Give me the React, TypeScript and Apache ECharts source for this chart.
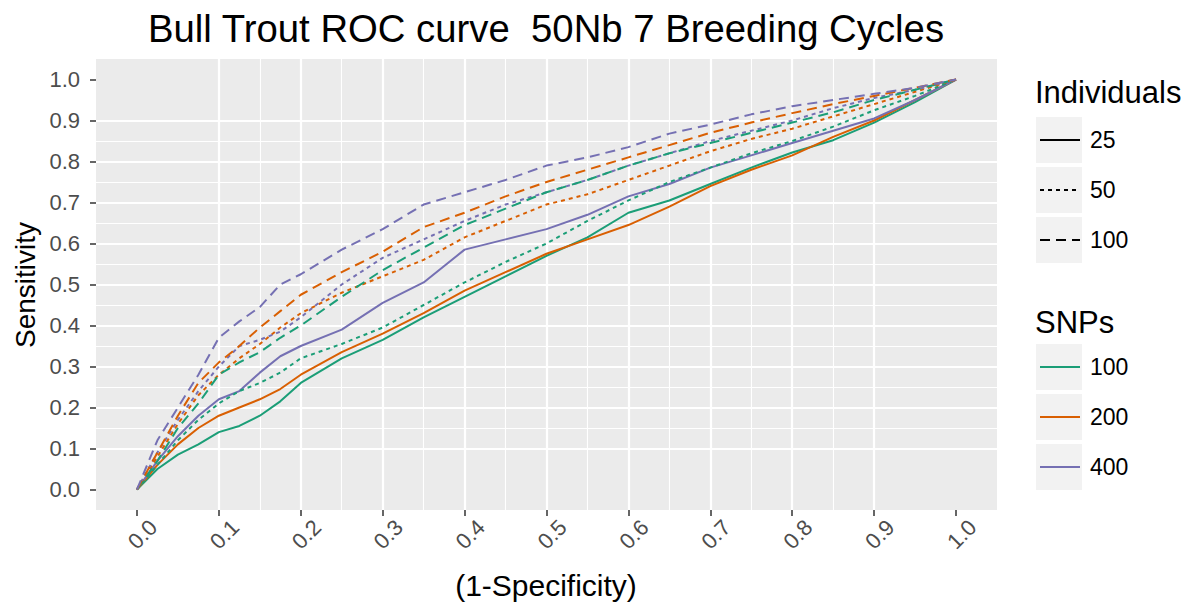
import React, { useEffect, useRef } from "react";
import * as echarts from "echarts";

// False positive rate (1 - specificity) sample positions
const FPR = [0, 0.025, 0.05, 0.075, 0.1, 0.125, 0.15, 0.175, 0.2, 0.25, 0.3, 0.35, 0.4, 0.45, 0.5, 0.55, 0.6, 0.65, 0.7, 0.75, 0.8, 0.85, 0.9, 0.95, 1];

// Sensitivity per SNPs / Individuals combination
const SNP100_IND25 = [0, 0.05, 0.085, 0.11, 0.14, 0.155, 0.18, 0.215, 0.26, 0.32, 0.365, 0.42, 0.47, 0.52, 0.57, 0.615, 0.675, 0.705, 0.745, 0.785, 0.822, 0.852, 0.895, 0.945, 1];
const SNP200_IND25 = [0, 0.06, 0.11, 0.15, 0.18, 0.2, 0.22, 0.245, 0.28, 0.335, 0.38, 0.43, 0.485, 0.53, 0.575, 0.61, 0.645, 0.69, 0.74, 0.78, 0.815, 0.86, 0.9, 0.95, 1];
const SNP400_IND25 = [0, 0.07, 0.13, 0.18, 0.22, 0.24, 0.285, 0.325, 0.35, 0.39, 0.455, 0.505, 0.585, 0.61, 0.635, 0.67, 0.715, 0.745, 0.785, 0.815, 0.845, 0.875, 0.905, 0.95, 1];
const SNP100_IND50 = [0, 0.06, 0.12, 0.17, 0.21, 0.24, 0.26, 0.285, 0.32, 0.355, 0.395, 0.45, 0.505, 0.555, 0.6, 0.655, 0.705, 0.75, 0.785, 0.82, 0.85, 0.885, 0.925, 0.96, 1];
const SNP200_IND50 = [0, 0.08, 0.16, 0.23, 0.28, 0.32, 0.355, 0.395, 0.43, 0.48, 0.52, 0.56, 0.615, 0.655, 0.695, 0.72, 0.755, 0.79, 0.825, 0.855, 0.88, 0.91, 0.94, 0.97, 1];
const SNP400_IND50 = [0, 0.09, 0.17, 0.24, 0.3, 0.35, 0.365, 0.385, 0.42, 0.5, 0.565, 0.61, 0.655, 0.695, 0.725, 0.755, 0.79, 0.82, 0.85, 0.875, 0.9, 0.93, 0.955, 0.975, 1];
const SNP100_IND100 = [0, 0.07, 0.15, 0.21, 0.28, 0.31, 0.335, 0.37, 0.4, 0.47, 0.535, 0.59, 0.645, 0.685, 0.725, 0.755, 0.79, 0.82, 0.845, 0.87, 0.895, 0.92, 0.95, 0.975, 1];
const SNP200_IND100 = [0, 0.09, 0.18, 0.26, 0.31, 0.35, 0.395, 0.435, 0.475, 0.53, 0.58, 0.64, 0.675, 0.715, 0.75, 0.78, 0.81, 0.84, 0.87, 0.895, 0.918, 0.94, 0.96, 0.98, 1];
const SNP400_IND100 = [0, 0.12, 0.2, 0.28, 0.37, 0.41, 0.445, 0.5, 0.525, 0.585, 0.635, 0.695, 0.725, 0.755, 0.79, 0.81, 0.835, 0.868, 0.89, 0.915, 0.935, 0.95, 0.965, 0.98, 1];

const INDIVIDUALS = ["25", "50", "100"];
const SNPS = ["100", "200", "400"];
const SNP_COLORS = ["#1B9E77", "#D95F02", "#7570B3"];
const IND_DASH: (string | number[])[] = ["solid", [4, 4], [10, 6]];

const MAJOR_TICKS = [0, 0.1, 0.2, 0.3, 0.4, 0.5, 0.6, 0.7, 0.8, 0.9, 1.0];
const MINOR_TICKS = [0.05, 0.15, 0.25, 0.35, 0.45, 0.55, 0.65, 0.75, 0.85, 0.95];

const CURVES = [
  { snp: 0, ind: 0, values: SNP100_IND25 },
  { snp: 1, ind: 0, values: SNP200_IND25 },
  { snp: 2, ind: 0, values: SNP400_IND25 },
  { snp: 0, ind: 1, values: SNP100_IND50 },
  { snp: 1, ind: 1, values: SNP200_IND50 },
  { snp: 2, ind: 1, values: SNP400_IND50 },
  { snp: 0, ind: 2, values: SNP100_IND100 },
  { snp: 1, ind: 2, values: SNP200_IND100 },
  { snp: 2, ind: 2, values: SNP400_IND100 },
];

const FONT = "'Liberation Sans', Arial, Helvetica, sans-serif";

function makeAxis(kind: "x" | "y", major: boolean) {
  const ticks = major ? MAJOR_TICKS : MINOR_TICKS;
  const base: any = {
    type: "value",
    gridIndex: 0,
    min: -0.05,
    max: 1.05,
    position: kind === "x" ? "bottom" : "left",
    axisLine: { show: false, onZero: false },
    axisTick: {
      show: major,
      customValues: ticks,
      length: 6,
      lineStyle: { color: "#333333", width: 1.5 },
    },
    axisLabel: {
      show: major,
      customValues: ticks,
      color: "#4d4d4d",
      fontFamily: FONT,
      fontSize: 22,
      formatter: (v: number) => v.toFixed(1),
    },
    splitLine: {
      show: true,
      showMinLine: false,
      showMaxLine: false,
      lineStyle: { color: "#ffffff", width: major ? 2.2 : 1.1 },
    },
  };
  if (kind === "x") {
    base.axisLabel.rotate = 45;
    base.axisLabel.align = "center";
    base.axisLabel.verticalAlign = "middle";
    base.axisLabel.margin = 30;
    base.axisLabel.padding = [0, 0, 0, 16];
  } else {
    base.axisLabel.margin = 16;
  }
  return base;
}

function legendGraphics() {
  const els: any[] = [];
  const x0 = 1036;
  els.push({
    type: "text",
    x: 1035,
    y: 92,
    style: { text: "Individuals", fontFamily: FONT, fontSize: 31, fill: "#000", verticalAlign: "middle" },
  });
  INDIVIDUALS.forEach((lab, i) => {
    const cy = 140 + 50 * i;
    els.push({ type: "rect", shape: { x: x0, y: cy - 23, width: 46, height: 46 }, style: { fill: "#f2f2f2" } });
    const dash = IND_DASH[i];
    els.push({
      type: "line",
      shape: { x1: x0 + 4, y1: cy, x2: x0 + 44, y2: cy },
      style: { stroke: "#000", lineWidth: 2, lineDash: dash === "solid" ? null : dash },
    });
    els.push({
      type: "text",
      x: 1090,
      y: cy,
      style: { text: lab, fontFamily: FONT, fontSize: 23, fill: "#000", verticalAlign: "middle" },
    });
  });
  els.push({
    type: "text",
    x: 1035,
    y: 322,
    style: { text: "SNPs", fontFamily: FONT, fontSize: 31, fill: "#000", verticalAlign: "middle" },
  });
  SNPS.forEach((lab, i) => {
    const cy = 367 + 50 * i;
    els.push({ type: "rect", shape: { x: x0, y: cy - 23, width: 46, height: 46 }, style: { fill: "#f2f2f2" } });
    els.push({
      type: "line",
      shape: { x1: x0 + 4, y1: cy, x2: x0 + 44, y2: cy },
      style: { stroke: SNP_COLORS[i], lineWidth: 2 },
    });
    els.push({
      type: "text",
      x: 1090,
      y: cy,
      style: { text: lab, fontFamily: FONT, fontSize: 23, fill: "#000", verticalAlign: "middle" },
    });
  });
  return els;
}

export default function App() {
  const ref = useRef<HTMLDivElement>(null);
  useEffect(() => {
    if (!ref.current) return;
    const chart = echarts.init(ref.current, null, { renderer: "svg" });
    const option: any = {
      animation: false,
      backgroundColor: "#ffffff",
      grid: {
        left: 96,
        right: 194,
        top: 59,
        bottom: 100,
        show: true,
        backgroundColor: "#ebebeb",
        borderWidth: 0,
      },
      xAxis: [makeAxis("x", true), makeAxis("x", false)],
      yAxis: [makeAxis("y", true), makeAxis("y", false)],
      series: CURVES.map((c) => ({
        type: "line",
        name: `${SNPS[c.snp]} SNPs / ${INDIVIDUALS[c.ind]} individuals`,
        xAxisIndex: 0,
        yAxisIndex: 0,
        showSymbol: false,
        symbol: "none",
        data: FPR.map((x, i) => [x, c.values[i]]),
        lineStyle: { color: SNP_COLORS[c.snp], width: 2, type: IND_DASH[c.ind] },
        itemStyle: { color: SNP_COLORS[c.snp] },
      })),
      graphic: [
        {
          type: "text",
          x: 546,
          y: 28,
          style: {
            text: "Bull Trout ROC curve  50Nb 7 Breeding Cycles",
            fontFamily: FONT,
            fontSize: 38.3,
            fill: "#000",
            align: "center",
            verticalAlign: "middle",
          },
        },
        {
          type: "text",
          x: 546,
          y: 585,
          style: {
            text: "(1-Specificity)",
            fontFamily: FONT,
            fontSize: 30,
            fill: "#000",
            align: "center",
            verticalAlign: "middle",
          },
        },
        {
          type: "text",
          x: 25,
          y: 285,
          rotation: Math.PI / 2,
          style: {
            text: "Sensitivity",
            fontFamily: FONT,
            fontSize: 28,
            fill: "#000",
            align: "center",
            verticalAlign: "middle",
          },
        },
        ...legendGraphics(),
      ],
    };
    chart.setOption(option);
    return () => chart.dispose();
  }, []);
  return <div ref={ref} style={{ position: "absolute", left: 0, top: 0, width: 1191, height: 610 }} />;
}
